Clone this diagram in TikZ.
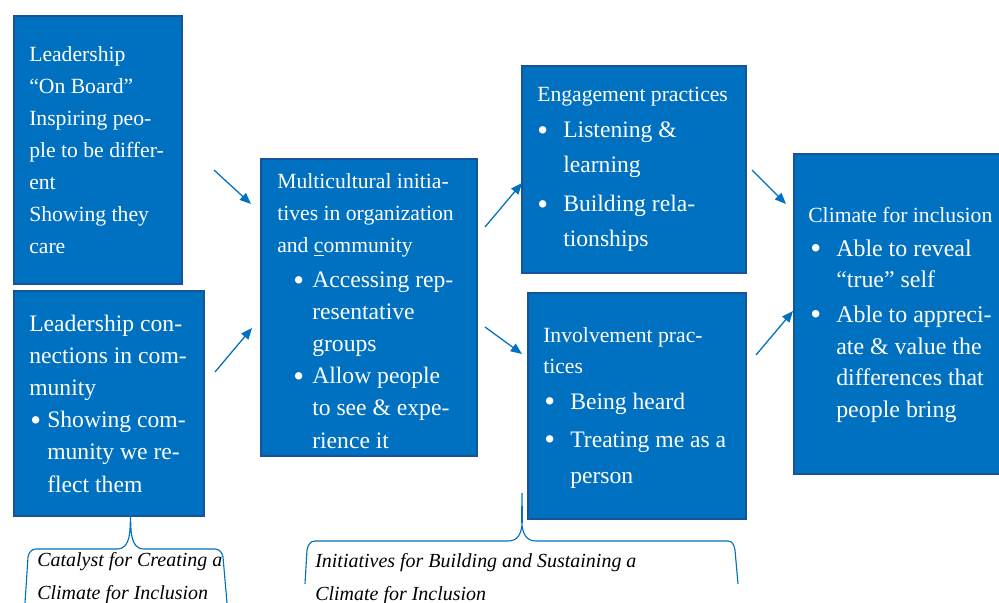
\documentclass[tikz,border=0pt]{standalone}
\usepackage{fontspec}
\setmainfont{Liberation Serif}
\usetikzlibrary{arrows.meta}

\definecolor{boxfill}{RGB}{0,112,192}
\definecolor{boxline}{RGB}{24,82,152}
\definecolor{linkblue}{RGB}{0,112,192}

\newdimen\px \px=0.025cm
\newcommand{\ttlsize}[1]{\fontsize{15.4pt}{#1}\selectfont}
\newcommand{\itmsize}[2][16.8pt]{\fontsize{#1}{#2}\selectfont}
\newcommand{\notefont}{\fontsize{14.2pt}{22.76pt}\selectfont\itshape}
% bullet: indent, then width of the bullet column
\newcommand{\blt}[2]{\hspace*{#1}\makebox[#2][l]{\raisebox{-0.09em}{\scalebox{1.3}{\textbullet}}}}

\begin{document}
\begin{tikzpicture}[x=0.025cm, y=-0.025cm,
  box/.style={draw=boxline, fill=boxfill, line width=1.2pt, inner sep=0pt, anchor=north west},
  boxtext/.style={text=white, align=left, anchor=base west, inner sep=0pt},
  link/.style={draw=linkblue, line width=0.9pt, -{Triangle[length=8pt,width=6.5pt]}},
  brace/.style={draw=linkblue, line width=0.8pt},
  note/.style={align=left, anchor=base west, inner sep=0pt, font=\notefont}]
  \useasboundingbox (0,0) rectangle (999,603);

  % boxes
  \node[box, minimum width=4.2cm, minimum height=6.7cm] (onboard) at (13,15) {};
  \node[box, minimum width=4.75cm, minimum height=5.625cm] (connect) at (13,290) {};
  \node[box, minimum width=5.4cm, minimum height=7.425cm] (multi) at (260,158) {};
  \node[box, minimum width=5.6cm, minimum height=5.175cm] (engage) at (521,65) {};
  \node[box, minimum width=5.45cm, minimum height=5.65cm] (involve) at (527,292) {};
  \node[box, minimum width=5.5cm, minimum height=8cm] (climate) at (793,153) {};

  % box texts (placed by the baseline of their last line)
  \node[boxtext, font=\ttlsize{22.76pt}] (onboard-txt) at (29,254)
    {Leadership\\“On Board”\\Inspiring peo-\\ple to be differ-\\ent\\Showing they\\care};
  \node[boxtext, font=\itmsize{22.76pt}] (connect-txt) at (29,492)
    {Leadership con-\\nections in com-\\munity\\
     \blt{1\px}{17\px}Showing com-\\\hspace*{18\px}munity we re-\\\hspace*{18\px}flect them};
  \node[boxtext, font=\ttlsize{22.76pt}] (multi-txt) at (277,448)
    {Multicultural initia-\\tives in organization\\and \underline{c}ommunity\\[3\px]
     \itmsize{22.76pt}\blt{16\px}{19\px}Accessing rep-\\
     \itmsize{22.76pt}\hspace*{35\px}resentative\\
     \itmsize{22.76pt}\hspace*{35\px}groups\\
     \itmsize{22.76pt}\blt{16\px}{19\px}Allow people\\
     \itmsize{22.76pt}\hspace*{35\px}to see \& expe-\\
     \itmsize{22.76pt}\hspace*{35\px}rience it};
  \node[boxtext, font=\ttlsize{24.9pt}] (engage-txt) at (537,247)
    {Engagement practices\\[1\px]
     \itmsize{24.9pt}\blt{0\px}{26\px}Listening \&\\
     \itmsize{24.9pt}\hspace*{26\px}learning\\[4\px]
     \itmsize{24.9pt}\blt{0\px}{26\px}Building rela-\\
     \itmsize{24.9pt}\hspace*{26\px}tionships};
  \node[boxtext, font=\ttlsize{22.4pt}] (involve-txt) at (543,483)
    {Involvement prac-\\tices\\[4.5\px]
     \itmsize{22.4pt}\blt{1\px}{26\px}Being heard\\[6\px]
     \itmsize{22.4pt}\blt{1\px}{26\px}Treating me as a\\[4.5\px]
     \itmsize{22.4pt}\hspace*{27\px}person};
  \node[boxtext, font=\ttlsize{22.4pt}] (climate-txt) at (808,417)
    {Climate for inclusion\\[2.5\px]
     \itmsize[17pt]{22.4pt}\blt{2\px}{26\px}Able to reveal\\
     \itmsize[17pt]{22.4pt}\hspace*{28\px}“true” self\\[3.5\px]
     \itmsize[17pt]{22.4pt}\blt{2\px}{26\px}Able to appreci-\\
     \itmsize[17pt]{22.4pt}\hspace*{28\px}ate \& value the\\
     \itmsize[17pt]{22.4pt}\hspace*{28\px}differences that\\
     \itmsize[17pt]{22.4pt}\hspace*{28\px}people bring};

  % arrows between boxes
  \coordinate (onboard-out) at (214,170);
  \coordinate (multi-in1) at (251,204);
  \coordinate (connect-out) at (215,372);
  \coordinate (multi-in2) at (252,328);
  \coordinate (multi-out1) at (485,227);
  \coordinate (engage-in) at (522,183);
  \coordinate (multi-out2) at (485,327);
  \coordinate (involve-in) at (522,354);
  \coordinate (engage-out) at (752,170);
  \coordinate (climate-in1) at (786,204);
  \coordinate (involve-out) at (756,355);
  \coordinate (climate-in2) at (793,311);
  \draw[link] (onboard-out) -- (multi-in1);
  \draw[link] (connect-out) -- (multi-in2);
  \draw[link] (multi-out1) -- (engage-in);
  \draw[link] (multi-out2) -- (involve-in);
  \draw[link] (engage-out) -- (climate-in1);
  \draw[link] (involve-out) -- (climate-in2);

  % braces
  \draw[brace] (25,603) -- (28,557) to[out=80,in=180] (36,549) -- (117,549)
    to[out=0,in=-92] (130.5,515) to[out=-88,in=180] (144,549) -- (215,549)
    to[out=0,in=100] (223,557) -- (227,603);
  \draw[brace] (305,584) -- (307,550) to[out=80,in=180] (315,541) -- (508,541)
    to[out=0,in=-92] (522,493) to[out=-88,in=180] (536,541) -- (728,541)
    to[out=0,in=100] (735,550) -- (738,584);
  \node[note] (catalyst) at (37,599) {Catalyst for Creating a\\Climate for Inclusion};
  \node[note] (initiatives) at (315,600) {Initiatives for Building and Sustaining a\\Climate for Inclusion};
\end{tikzpicture}
\end{document}
